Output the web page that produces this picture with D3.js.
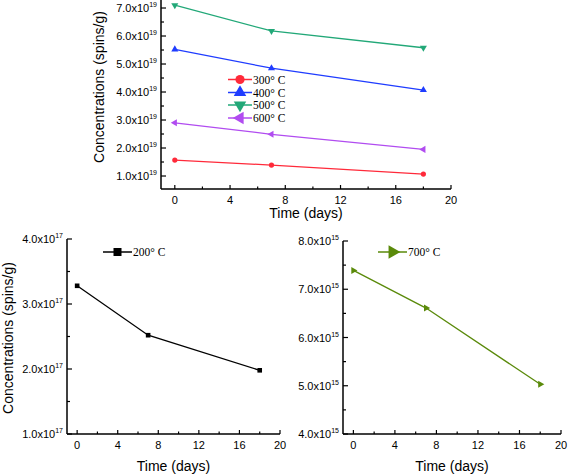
<!DOCTYPE html>
<html><head><meta charset="utf-8">
<script src="https://cdn.jsdelivr.net/npm/d3@7/dist/d3.min.js"></script>
<style>body{margin:0;background:#fff}svg{display:block}</style>
</head><body>
<svg id="c" width="569" height="475"></svg>
<script>
const days = [0, 7, 18];
const xTicks = [0, 4, 8, 12, 16, 20];
// top panel (units of 1e19 spins/g)
const s300 = [1.57, 1.39, 1.07];
const s400 = [5.52, 4.85, 4.07];
const s500 = [7.10, 6.18, 5.58];
const s600 = [2.90, 2.49, 1.95];
const topYTicks = [1, 2, 3, 4, 5, 6, 7];
// bottom-left (1e17)
const s200 = [3.28, 2.52, 1.98];
const blYTicks = [1, 2, 3, 4];
// bottom-right (1e15)
const s700 = [7.39, 6.61, 5.03];
const brYTicks = [4, 5, 6, 7, 8];
const seriesNames = ["300° C", "400° C", "500° C", "600° C"];

const svg = d3.select("#c");

function panel(o) {
  const x = d3.scaleLinear().domain([-1, 20]).range([o.x0, o.x1]);
  const y = d3.scaleLinear().domain(o.ydom).range([o.y1, o.y0]);
  const g = svg.append("g");
  g.append("line").attr("x1", o.x0).attr("x2", o.x1).attr("y1", o.y1).attr("y2", o.y1).attr("stroke", "#000").attr("stroke-width", 1.5);
  g.append("line").attr("x1", o.x0).attr("x2", o.x0).attr("y1", o.y0).attr("y2", o.y1).attr("stroke", "#000").attr("stroke-width", 1.5);
  const xMinor = d3.range(2, 20, 4);
  xTicks.forEach(t => {
    g.append("line").attr("x1", x(t)).attr("x2", x(t)).attr("y1", o.y1).attr("y2", o.y1 - 4).attr("stroke", "#000").attr("stroke-width", 1.2);
    g.append("text").attr("x", x(t)).attr("y", o.y1 + 15).attr("text-anchor", "middle")
      .attr("font-family", "Liberation Sans, Arial, sans-serif").attr("font-size", 11).text(t);
  });
  xMinor.forEach(t => {
    g.append("line").attr("x1", x(t)).attr("x2", x(t)).attr("y1", o.y1).attr("y2", o.y1 - 2.5).attr("stroke", "#000").attr("stroke-width", 1.2);
  });
  o.yticks.forEach((t, i) => {
    g.append("line").attr("x1", o.x0).attr("x2", o.x0 + 5).attr("y1", y(t)).attr("y2", y(t)).attr("stroke", "#000").attr("stroke-width", 1.2);
    if (i < o.yticks.length - 1) {
      const m = (t + o.yticks[i + 1]) / 2;
      g.append("line").attr("x1", o.x0).attr("x2", o.x0 + 3).attr("y1", y(m)).attr("y2", y(m)).attr("stroke", "#000").attr("stroke-width", 1.2);
    }
    const tx = g.append("text").attr("x", o.x0 - 4).attr("y", y(t) + 4).attr("text-anchor", "end")
      .attr("font-family", "Liberation Sans, Arial, sans-serif").attr("font-size", 11);
    tx.append("tspan").text(t.toFixed(1) + "x10");
    tx.append("tspan").attr("dy", -5).attr("font-size", 7).text(o.exp);
  });
  g.append("text").attr("x", (o.x0 + o.x1) / 2 + o.xtOff).attr("y", o.xtY).attr("text-anchor", "middle")
    .attr("font-family", "Liberation Sans, Arial, sans-serif").attr("font-size", 14).text("Time (days)");
  if (o.ytX !== undefined) {
    g.append("text").attr("transform", `translate(${o.ytX},${o.ytY}) rotate(-90)`).attr("text-anchor", "middle")
      .attr("font-family", "Liberation Sans, Arial, sans-serif").attr("font-size", 14).text("Concentrations (spins/g)");
  }
  return {x, y, g};
}

function marker(g, type, cx, cy, r, color) {
  if (type === "circle") {
    g.append("circle").attr("cx", cx).attr("cy", cy).attr("r", r).attr("fill", color);
  } else if (type === "square") {
    g.append("rect").attr("x", cx - r).attr("y", cy - r).attr("width", 2 * r).attr("height", 2 * r).attr("fill", color);
  } else {
    const rot = {up: 0, down: 180, left: -90, right: 90}[type];
    const size = r * r * 3.2;
    g.append("path").attr("d", d3.symbol().type(d3.symbolTriangle).size(size)())
      .attr("transform", `translate(${cx},${cy}) rotate(${rot})`).attr("fill", color);
  }
}

function series(p, vals, color, type, r) {
  const line = d3.line().x((d, i) => p.x(days[i])).y(d => p.y(d));
  p.g.append("path").datum(vals).attr("d", line).attr("fill", "none").attr("stroke", color).attr("stroke-width", 1.3);
  vals.forEach((v, i) => marker(p.g, type, p.x(days[i]), p.y(v), r, color));
}

function legendItem(g, x0, x1, yy, color, type, label, r) {
  g.append("line").attr("x1", x0).attr("x2", x1).attr("y1", yy).attr("y2", yy).attr("stroke", color).attr("stroke-width", 1.5);
  marker(g, type, (x0 + x1) / 2, yy, r, color);
  g.append("text").attr("x", x1 + 1).attr("y", yy + 4).attr("font-family", "Liberation Serif, Times New Roman, serif")
    .attr("font-size", 11.5).text(label);
}

const topP = panel({x0: 161, x1: 451, y0: 0, y1: 189, ydom: [0.536, 7.286], yticks: topYTicks, exp: "19",
  xtY: 218, xtOff: 0, ytX: 104, ytY: 87});
const cols = ["#ff2a3a", "#1f3cff", "#22a878", "#b14cf0"];
const types = ["circle", "up", "down", "left"];
[s300, s400, s500, s600].forEach((s, i) => series(topP, s, cols[i], types[i], 2.6));
[79.5, 92.5, 105, 118].forEach((yy, i) => legendItem(topP.g, 228, 252, yy, cols[i], types[i], seriesNames[i], 4.6));

const bl = panel({x0: 67, x1: 280, y0: 239, y1: 434, ydom: [1, 4], yticks: blYTicks, exp: "17",
  xtY: 471, xtOff: 0, ytX: 13, ytY: 338});
series(bl, s200, "#000", "square", 2.3);
legendItem(bl.g, 103, 132, 252, "#000", "square", "200° C", 4);

const br = panel({x0: 343, x1: 561, y0: 241, y1: 434, ydom: [4, 8], yticks: brYTicks, exp: "15",
  xtY: 471, xtOff: 0});
series(br, s700, "#5a8a0a", "right", 2.6);
legendItem(br.g, 378, 407, 252, "#5a8a0a", "right", "700° C", 5);
</script>
</body></html>
